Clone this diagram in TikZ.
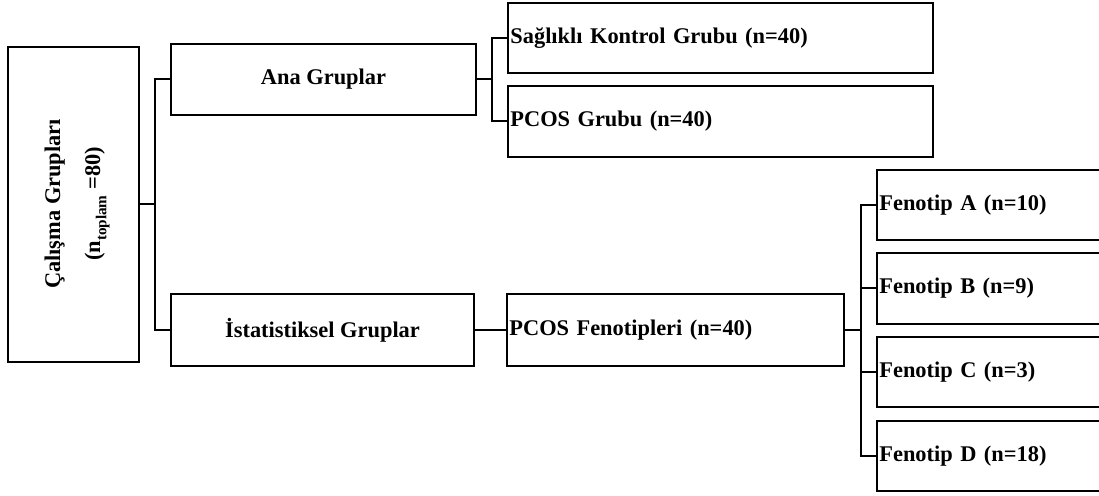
\documentclass[tikz,border=0pt]{standalone}
\usepackage{fontspec}
\setmainfont{Liberation Serif}
\begin{document}
\tikzset{
  box/.style={draw, line width=1pt, rectangle, inner sep=0pt,
    font=\fontsize{11.2}{14}\selectfont\bfseries},
  leftbox/.style={box, inner xsep=1.2pt, align=left},
  vtext/.style={rotate=90, align=center, inner sep=0pt,
    font=\fontsize{11.2}{20}\selectfont\bfseries},
  link/.style={line width=1pt},
}
\begin{tikzpicture}[x=0.5pt,y=-0.5pt]
% page frame (boxes on the far right run past the edge)
\clip (0,0) rectangle (1099,496);

% root box with its title set vertically
\node[box, minimum width=65.5pt, minimum height=157.5pt] (root) at (73.5,204.5) {};
\node[vtext] (roottext) at (77,204)
  {Çalışma Grupları\\(n\raisebox{-0.28em}{\fontsize{7.6}{8}\selectfont toplam} =80)};

% second level
\node[box, minimum width=152.5pt, minimum height=35.5pt] (ana) at (323.5,79.5) {Ana Gruplar};
\node[box, minimum width=151.5pt, minimum height=36pt] (ist) at (322.5,330) {İstatistiksel Gruplar};

% main groups
\node[leftbox, minimum width=212.5pt, minimum height=35pt, text width=210.1pt] (sag) at (720.5,38)
  {Sağlıklı Kontrol Grubu (n=40)};
\node[leftbox, minimum width=212.5pt, minimum height=35.5pt, text width=210.1pt] (pg) at (720.5,121.5)
  {PCOS Grubu (n=40)};

% phenotypes
\node[leftbox, minimum width=168.5pt, minimum height=36pt, text width=166.1pt] (pf) at (675.5,330)
  {PCOS Fenotipleri (n=40)};
\node[leftbox, minimum width=116.5pt, minimum height=35pt, text width=114.1pt] (fa) at (993.5,205) {Fenotip A (n=10)};
\node[leftbox, minimum width=116.5pt, minimum height=35.5pt, text width=114.1pt] (fb) at (993.5,288.5) {Fenotip B (n=9)};
\node[leftbox, minimum width=116.5pt, minimum height=35pt, text width=114.1pt] (fc) at (993.5,372) {Fenotip C (n=3)};
\node[leftbox, minimum width=116.5pt, minimum height=35pt, text width=114.1pt] (fd) at (993.5,456) {Fenotip D (n=18)};

% bracket joints
\coordinate (j1) at (155,204.5);
\coordinate (j2) at (492,79.5);
\coordinate (j3) at (861,330);

% connectors
\draw[link] (root.east) -- (j1);
\draw[link] (ana.west) -| (j1) |- (ist.west);
\draw[link] (ana.east) -- (j2);
\draw[link] (sag.west) -| (j2) |- (pg.west);
\draw[link] (ist.east) -- (pf.west);
\draw[link] (pf.east) -- (j3);
\draw[link] (fa.west) -| (j3) |- (fd.west);
\draw[link] (fb.west) -- (fb.west -| j3);
\draw[link] (fc.west) -- (fc.west -| j3);
\end{tikzpicture}
\end{document}
